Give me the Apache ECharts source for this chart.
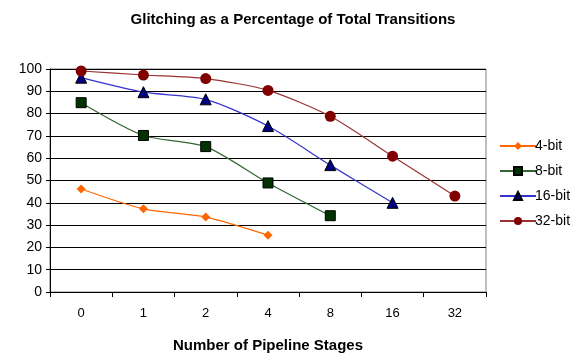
<!DOCTYPE html>
<html>
<head>
<meta charset="utf-8">
<script src="https://cdn.jsdelivr.net/npm/echarts@6/dist/echarts.min.js"></script>
<style>
  html, body { margin: 0; padding: 0; background: #fff; }
  #chart { width: 587px; height: 358px; }
</style>
</head>
<body>
<div id="chart"></div>
<script>
// Pipeline stage counts along the x axis
const stages = ['0', '1', '2', '4', '8', '16', '32'];

// Glitching (% of total transitions) per adder width
const bit4  = [46.2, 37.3, 33.6, 25.5];
const bit8  = [84.9, 70.2, 65.2, 48.9, 34.2];
const bit16 = [96.1, 89.6, 86.4, 74.4, 56.9, 40.0];
const bit32 = [99.1, 97.3, 95.7, 90.4, 78.8, 60.9, 43.0];

const chart = echarts.init(document.getElementById('chart'));
const FONT = 'Liberation Sans, Arial, sans-serif';

function line(name, data, color, markerColor, symbol, size, border) {
  return {
    name: name,
    type: 'line',
    data: data,
    smooth: 0.25,
    symbol: symbol,
    symbolSize: size,
    lineStyle: { color: color, width: 1.2 },
    itemStyle: { color: markerColor, borderColor: border, borderWidth: border ? 1 : 0 },
    emphasis: { disabled: true },
    z: 3
  };
}

chart.setOption({
  backgroundColor: '#fff',
  animation: false,
  textStyle: { fontFamily: FONT },
  title: {
    text: 'Glitching as a Percentage of Total Transitions',
    left: 288, top: 7, textAlign: 'center',
    textStyle: { fontFamily: FONT, fontSize: 15, fontWeight: 'bold', color: '#000' }
  },
  legend: {
    orient: 'vertical',
    left: 494, top: 134,
    itemWidth: 36, itemHeight: 10, itemGap: 11,
    textStyle: { fontFamily: FONT, fontSize: 14, color: '#000', padding: [0, 0, 0, -6] },
    data: ['4-bit', '8-bit', '16-bit', '32-bit']
  },
  grid: {
    left: 50, right: 101, top: 69, bottom: 64,
    show: true, borderColor: '#808080', borderWidth: 1, backgroundColor: '#fff'
  },
  xAxis: {
    type: 'category',
    data: stages,
    boundaryGap: true,
    name: 'Number of Pipeline Stages',
    nameLocation: 'middle',
    nameGap: 46,
    nameTextStyle: { fontFamily: FONT, fontSize: 15, fontWeight: 'bold', color: '#000' },
    axisLine: { lineStyle: { color: '#000', width: 1 } },
    axisTick: { show: true, alignWithLabel: false, length: 5, inside: false, lineStyle: { color: '#000' } },
    axisLabel: { fontFamily: FONT, fontSize: 13, color: '#000', margin: 15 },
    splitLine: { show: false }
  },
  yAxis: {
    type: 'value',
    min: 0, max: 100, interval: 10,
    axisLine: { show: true, lineStyle: { color: '#000', width: 1 } },
    axisTick: { show: true, length: 4, lineStyle: { color: '#000' } },
    axisLabel: { fontFamily: FONT, fontSize: 14, color: '#000', margin: 8 },
    splitLine: { show: true, lineStyle: { color: '#000', width: 1 } }
  },
  series: [
    line('4-bit',  bit4,  '#FF6600', '#FF6600', 'diamond',  9, null),
    line('8-bit',  bit8,  '#336633', '#003300', 'rect',     10, '#000'),
    line('16-bit', bit16, '#3333CC', '#000080', 'triangle', 11, '#000'),
    line('32-bit', bit32, '#993333', '#800000', 'circle',   11, null)
  ]
});
</script>
</body>
</html>
